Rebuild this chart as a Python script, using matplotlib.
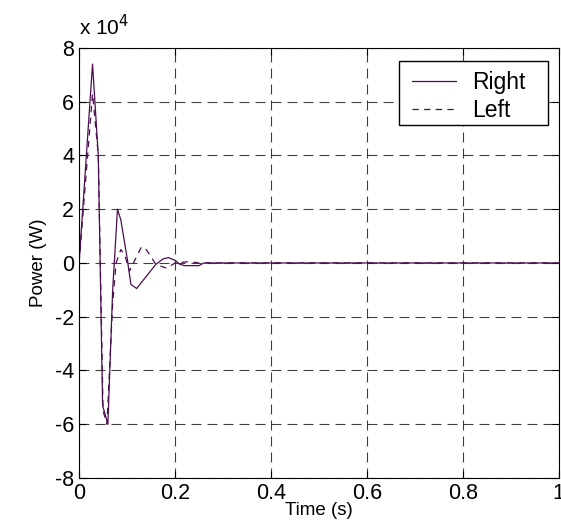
import numpy as np
import matplotlib.pyplot as plt
from matplotlib.patches import Rectangle

plt.rcParams['font.family'] = ['Liberation Sans', 'DejaVu Sans']
plt.rcParams['axes.unicode_minus'] = False

# Right wheel power (x 1e4 W)
t_right = [0, 0.028, 0.04, 0.049, 0.06, 0.07, 0.08, 0.087, 0.1, 0.108, 0.12,
           0.14, 0.16, 0.175, 0.186, 0.2, 0.21, 0.22, 0.25, 0.26, 1.0]
p_right = [0, 7.4, 4.0, -5.3, -6.0, -1.0, 2.0, 1.6, 0.2, -0.8, -0.95,
           -0.5, -0.05, 0.15, 0.2, 0.1, -0.05, -0.1, -0.1, 0, 0]

# Left wheel power (x 1e4 W)
t_left = [0, 0.028, 0.04, 0.05, 0.058, 0.07, 0.077, 0.087, 0.095, 0.105,
          0.13, 0.14, 0.16, 0.183, 0.2, 0.23, 0.25, 1.0]
p_left = [0, 6.3, 4.0, -5.5, -6.0, -1.5, 0, 0.5, 0.3, -0.3,
          0.6, 0.5, -0.05, -0.2, 0, 0.05, 0, 0]

col = '#4b0f4f'

fig = plt.figure(figsize=(5.61, 5.29), dpi=100)
ax = fig.add_axes([0.141, 0.0964, 0.855, 0.813])

ax.plot(t_right, p_right, color=col, lw=0.9, label='Right')
ax.plot(t_left, p_left, color=col, lw=0.9, ls=(0, (5, 4.3)), label='Left')

ax.set_xlim(0, 1)
ax.set_ylim(-8, 8)
ax.set_xticks(np.arange(0, 1.01, 0.2))
ax.set_xticklabels(['0', '0.2', '0.4', '0.6', '0.8', '1'])
ax.set_yticks(np.arange(-8, 9, 2))
ax.tick_params(direction='in', top=True, right=True, labelsize=15.5, length=5)
ax.grid(True, color='k', lw=0.8, ls=(0, (9, 5.4)), alpha=0.75)

ax.text(0, 1.02, r'x 10$^4$', transform=ax.transAxes, fontsize=15, va='bottom')
ax.set_xlabel('Time (s)', fontsize=13.5, labelpad=-1)
ax.set_ylabel('Power (W)', fontsize=13.5, labelpad=6)

# legend box drawn separately so its padding matches the original
ax.add_patch(Rectangle((0.666, 0.821), 0.311, 0.149, transform=ax.transAxes,
                       fc='white', ec='k', lw=1.0, zorder=4))
leg = ax.legend(loc='upper left', bbox_to_anchor=(0.695, 0.946), frameon=False,
                fontsize=16.5, handlelength=1.9, handletextpad=0.7,
                labelspacing=0.22, borderpad=0, borderaxespad=0)
leg.set_zorder(5)

fig.savefig('out.png')
